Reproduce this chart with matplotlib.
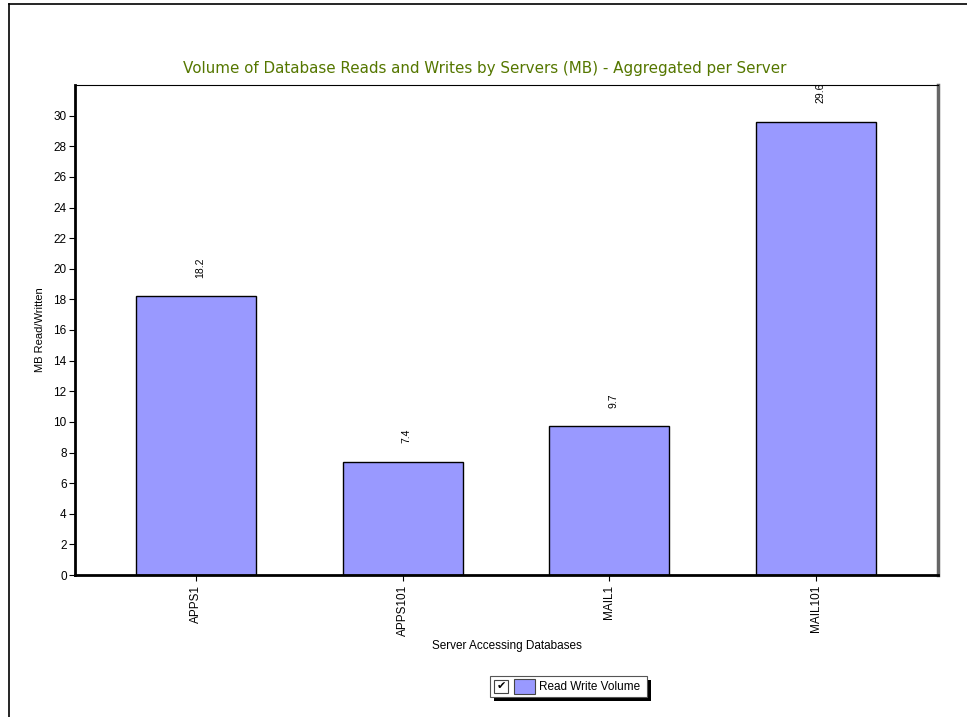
"""Database read/write volume per server."""

import matplotlib.pyplot as plt
from matplotlib.patches import Rectangle
from matplotlib.lines import Line2D

servers = ["APPS1", "APPS101", "MAIL1", "MAIL101"]
volume_mb = [18.2, 7.4, 9.7, 29.6]
y_ticks = list(range(0, 31, 2))

BAR_COLOR = "#9999ff"
TITLE_COLOR = "#557700"

plt.rcParams["font.family"] = ["Liberation Sans", "DejaVu Sans"]

W, H = 967, 717
fig = plt.figure(figsize=(W / 100, H / 100), dpi=100)


def px(x0, y0, x1, y1):
    """Pixel box (top-left origin) to figure fraction rect."""
    return [x0 / W, 1 - y1 / H, (x1 - x0) / W, (y1 - y0) / H]


ax = fig.add_axes(px(75, 85, 938, 575))
xs = range(len(servers))
ax.bar(xs, volume_mb, width=0.58, color=BAR_COLOR, edgecolor="black", linewidth=1.0, zorder=2)
for x, v in zip(xs, volume_mb):
    ax.text(x + 0.02, v + 1.2, f"{v:.1f}", rotation=90, ha="center", va="bottom", fontsize=7.5)

ax.set_xlim(-0.585, 3.59)
ax.set_ylim(0, 32)
ax.set_yticks(y_ticks)
ax.set_xticks(list(xs))
ax.set_xticklabels(servers, rotation=90, fontsize=8.5)
ax.tick_params(axis="y", labelsize=8.5, length=4, width=0.8, pad=2)
ax.tick_params(axis="x", length=4, width=0.8, pad=3)

ax.spines["top"].set_linewidth(0.8)
ax.spines["left"].set_linewidth(2.0)
ax.spines["bottom"].set_linewidth(2.0)
ax.spines["right"].set_linewidth(2.5)
ax.spines["right"].set_color("#666666")

ax.set_ylabel("MB Read/Written", fontsize=8, labelpad=6)
ax.set_xlabel("Server Accessing Databases", fontsize=8.5, labelpad=3)
fig.text(485 / W, 1 - 68 / H, "Volume of Database Reads and Writes by Servers (MB) - Aggregated per Server",
         ha="center", va="center", fontsize=10.9, color=TITLE_COLOR, family=["DejaVu Sans"])

# outer frame (top and left edges only)
fig.add_artist(Line2D([9 / W, 1], [1 - 4 / H, 1 - 4 / H], color="black", lw=1.2, transform=fig.transFigure))
fig.add_artist(Line2D([9 / W, 9 / W], [0, 1 - 4 / H], color="black", lw=1.2, transform=fig.transFigure))

# legend box with drop shadow, checkbox and swatch
fig.add_artist(Rectangle(px(494, 680, 651, 701)[:2], 157 / W, 21 / H, transform=fig.transFigure,
                         facecolor="black", edgecolor="none"))
fig.add_artist(Rectangle(px(490, 676, 647, 697)[:2], 157 / W, 21 / H, transform=fig.transFigure,
                         facecolor="white", edgecolor="#555555", lw=0.8))
fig.add_artist(Rectangle(px(494, 680, 508, 693)[:2], 14 / W, 13 / H, transform=fig.transFigure,
                         facecolor="white", edgecolor="#444444", lw=0.8))
fig.text(501 / W, 1 - 686.5 / H, "\u2714", ha="center", va="center", fontsize=8,
         family=["DejaVu Sans"])
fig.add_artist(Rectangle(px(514, 679, 535, 694)[:2], 21 / W, 15 / H, transform=fig.transFigure,
                         facecolor=BAR_COLOR, edgecolor="#444444", lw=0.8))
fig.text(539 / W, 1 - 686.5 / H, "Read Write Volume", ha="left", va="center", fontsize=8.5)

fig.savefig("out.png", dpi=100)
plt.close(fig)
